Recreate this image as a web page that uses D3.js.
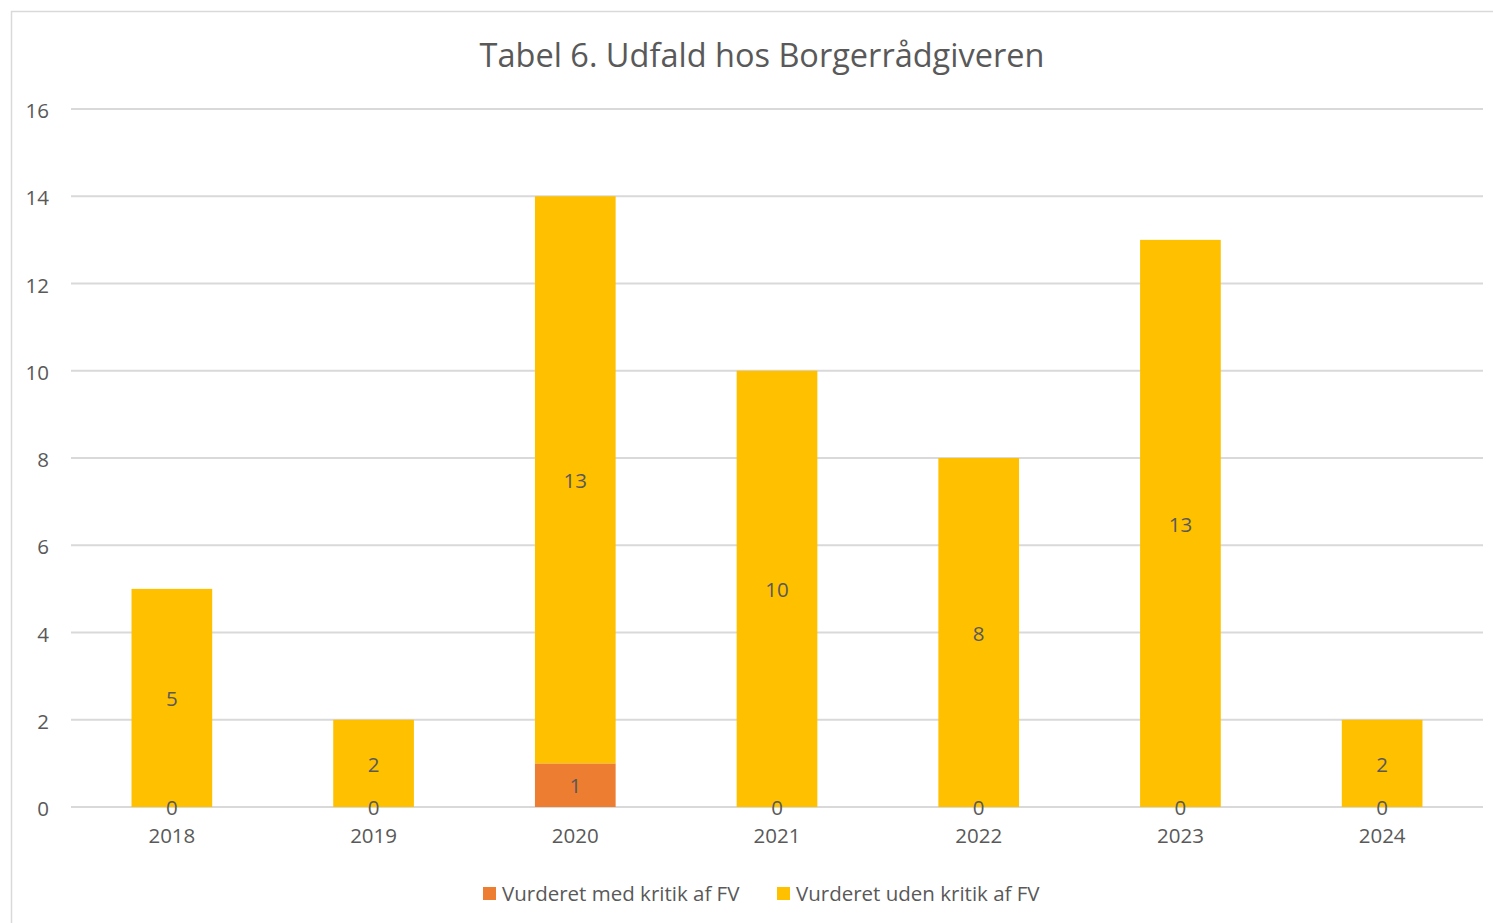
<!DOCTYPE html>
<html>
<head>
<meta charset="utf-8">
<script src="https://cdn.jsdelivr.net/npm/d3@7"></script>
<style>
  body { margin: 0; background: #fff; }
  text { font-family: "Open Sans", "Noto Sans", sans-serif; fill: #595959; }
</style>
</head>
<body>
<div id="chart"></div>
<script>
// data
const years = ["2018", "2019", "2020", "2021", "2022", "2023", "2024"];
const medKritik = [0, 0, 1, 0, 0, 0, 0];
const udenKritik = [5, 2, 13, 10, 8, 13, 2];
const seriesNames = ["Vurderet med kritik af FV", "Vurderet uden kritik af FV"];
const seriesColors = ["#ED7D31", "#FFC000"];
const yTicks = [0, 2, 4, 6, 8, 10, 12, 14, 16];

const W = 1493, H = 923;
const margin = {top: 109, right: 10, bottom: 116, left: 71};
const plotW = 1483 - margin.left, plotH = 807 - margin.top;

const svg = d3.select("#chart").append("svg")
  .attr("width", W).attr("height", H);

// chart border
svg.append("rect")
  .attr("x", 11.5).attr("y", 11.5)
  .attr("width", W + 20).attr("height", H + 20)
  .attr("fill", "none").attr("stroke", "#D9D9D9").attr("stroke-width", 1.5);

svg.append("text")
  .attr("x", 762).attr("y", 67)
  .attr("text-anchor", "middle")
  .style("font-size", "32.5px")
  .text("Tabel 6. Udfald hos Borgerrådgiveren");

const g = svg.append("g")
  .attr("transform", `translate(${margin.left}, ${margin.top})`);

const x = d3.scaleBand().domain(years).range([0, plotW]).paddingInner(0.6).paddingOuter(0.3);
const y = d3.scaleLinear().domain([0, 16]).range([plotH, 0]);

// gridlines
g.append("g")
  .selectAll("line")
  .data(yTicks)
  .enter().append("line")
    .attr("x1", 0).attr("x2", plotW)
    .attr("y1", d => y(d)).attr("y2", d => y(d))
    .attr("stroke", "#D9D9D9").attr("stroke-width", 2);

// y axis labels
const yAxis = g.append("g")
  .attr("transform", "translate(-22,2)")
  .call(d3.axisLeft(y).tickValues(yTicks).tickSize(0).tickPadding(0));
yAxis.select(".domain").remove();
yAxis.selectAll("text")
  .style("font-size", "20.5px").style("fill", "#595959").style("font-family", "Open Sans");

// stacked data
const rows = years.map((yr, i) => ({year: yr, med: medKritik[i], uden: udenKritik[i]}));
const stack = d3.stack().keys(["med", "uden"])(rows);

const layers = g.selectAll(".layer")
  .data(stack)
  .enter().append("g")
    .attr("fill", (d, i) => seriesColors[i]);

layers.selectAll("rect")
  .data(d => d)
  .enter().append("rect")
    .attr("x", d => x(d.data.year))
    .attr("width", x.bandwidth())
    .attr("y", d => y(d[1]))
    .attr("height", d => y(d[0]) - y(d[1]));

// data labels (drawn on top of all bars)
const labels = g.append("g");
stack.forEach(layer => {
  labels.selectAll(null)
    .data(layer)
    .enter().append("text")
      .attr("x", d => x(d.data.year) + x.bandwidth() / 2)
      .attr("y", d => (y(d[0]) + y(d[1])) / 2 + 1)
      .attr("dy", "0.35em")
      .attr("text-anchor", "middle")
      .style("font-size", "20.5px")
      .text(d => d[1] - d[0]);
});

// x axis labels
const xAxis = g.append("g")
  .attr("transform", `translate(0, ${plotH})`)
  .call(d3.axisBottom(x).tickSize(0).tickPadding(21));
xAxis.select(".domain").remove();
xAxis.selectAll("text")
  .style("font-size", "20.5px").style("fill", "#595959").style("font-family", "Open Sans");

// legend
const legendX = [483, 777];
const legend = svg.append("g").selectAll("g")
  .data(seriesNames)
  .enter().append("g")
    .attr("transform", (d, i) => `translate(${legendX[i]}, 887)`);
legend.append("rect")
  .attr("width", 13).attr("height", 13)
  .attr("fill", (d, i) => seriesColors[i]);
legend.append("text")
  .attr("x", 19).attr("y", 7).attr("dy", "0.35em")
  .style("font-size", "20.5px")
  .text(d => d);
</script>
</body>
</html>
